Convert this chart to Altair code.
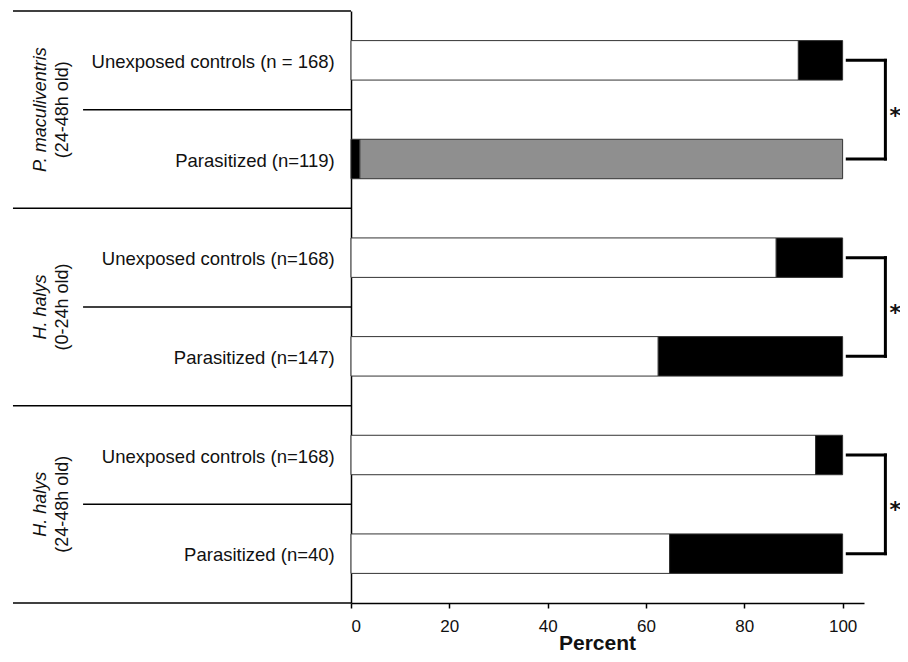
import altair as alt
import pandas as pd

# ---------------- data ----------------
row_labels = [
    "Unexposed controls (n = 168)",
    "Parasitized (n=119)",
    "Unexposed controls (n=168)",
    "Parasitized (n=147)",
    "Unexposed controls (n=168)",
    "Parasitized (n=40)",
]
row_index = [0, 1, 2, 3, 4, 5]

# stacked segments, listed in drawing order (left to right) for each row
seg_row = [0, 0, 1, 1, 2, 2, 3, 3, 4, 4, 5, 5]
seg_cat = ["Nymph emerged", "No emergence",
           "No emergence", "Parasitoid emerged",
           "Nymph emerged", "No emergence",
           "Nymph emerged", "No emergence",
           "Nymph emerged", "No emergence",
           "Nymph emerged", "No emergence"]
seg_val = [91.0, 9.0,
           1.8, 98.2,
           86.5, 13.5,
           62.5, 37.5,
           94.5, 5.5,
           64.8, 35.2]

categories = ["Nymph emerged", "No emergence", "Parasitoid emerged"]
cat_colors = ["#ffffff", "#000000", "#8f8f8f"]

group_species = ["P. maculiventris", "H. halys", "H. halys"]
group_age = ["(24-48h old)", "(0-24h old)", "(24-48h old)"]
group_first_row = [0, 2, 4]

# significance brackets between pairs of rows
bracket_top = [0, 2, 4]
bracket_bottom = [1, 3, 5]
bracket_mark = ["*", "*", "*"]

x_ticks = [0, 20, 40, 60, 80, 100]

# ---------------- layout constants ----------------
BAR_HALF = 0.2
X_MAX = 104.35
X_LEFT = -68.76     # left end of frame lines
X_INNER = -54.5     # left end of within-group lines
X_ROWLAB = -3.3
X_SPECIES = -62.0
X_AGE = -57.6
X_BR0 = 100.95
X_BR1 = 108.7
X_STAR = 110.7
FONT = "Liberation Sans"
TXT = "#111111"

# ---------------- tables ----------------
segs = pd.DataFrame({"row": seg_row, "cat": seg_cat, "val": seg_val})
segs["end"] = segs.groupby("row")["val"].cumsum()
segs["start"] = segs["end"] - segs["val"]
segs["y0"] = segs["row"] - BAR_HALF
segs["y1"] = segs["row"] + BAR_HALF

rows = pd.DataFrame({"row": row_index, "label": row_labels})

groups = pd.DataFrame({
    "species": group_species,
    "age": group_age,
    "gy": [r + 0.5 for r in group_first_row],
})

long_lines = pd.DataFrame({"y": [g - 0.5 for g in group_first_row] + [row_index[-1] + 0.5]})
long_lines["x1"] = X_LEFT
long_lines["x2"] = 0
short_lines = pd.DataFrame({"y": [g + 0.5 for g in group_first_row]})
short_lines["x1"] = X_INNER
short_lines["x2"] = 0
frame = pd.concat([long_lines, short_lines], ignore_index=True)

br_h = pd.DataFrame({"y": bracket_top + bracket_bottom})
br_h["x1"] = X_BR0
br_h["x2"] = X_BR1
br_v = pd.DataFrame({"ya": bracket_top, "yb": bracket_bottom})
stars = pd.DataFrame({"ym": [(a + b) / 2 for a, b in zip(bracket_top, bracket_bottom)],
                      "s": bracket_mark})

# ---------------- scales & axes ----------------
xs = alt.Scale(domain=[0, X_MAX], nice=False, zero=False)
ys = alt.Scale(domain=[-0.5, 5.5], reverse=True, nice=False, zero=False)

x_axis = alt.Axis(
    values=x_ticks, title="Percent", grid=False,
    labelFont=FONT, labelFontSize=17, labelColor=TXT, labelPadding=10,
    tickColor="#000000", tickSize=5, tickWidth=1.5,
    domainColor="#000000", domainWidth=1.5,
    titleFont=FONT, titleFontSize=21, titleFontWeight="bold", titleColor=TXT,
    titleX=246, titleY=46, titleBaseline="alphabetic", titleAlign="center")
y_axis = alt.Axis(
    labels=False, ticks=False, grid=False, title=None,
    domainColor="#000000", domainWidth=1.5)


def X(field):
    return alt.X(field, scale=xs, axis=x_axis)


def Y(field):
    return alt.Y(field, scale=ys, axis=y_axis)


def XD(v):
    return alt.XDatum(v, scale=xs, axis=x_axis)


bars = alt.Chart(segs).mark_rect(stroke="#333333", strokeWidth=1).encode(
    x=X("start:Q"), x2="end:Q",
    y=Y("y0:Q"), y2="y1:Q",
    color=alt.Color("cat:N", scale=alt.Scale(domain=categories, range=cat_colors), legend=None),
)

frame_rules = alt.Chart(frame).mark_rule(color="#000000", strokeWidth=1.5).encode(
    x=X("x1:Q"), x2="x2:Q", y=Y("y:Q"),
)

row_text = alt.Chart(rows).mark_text(
    align="right", baseline="middle", font=FONT, fontSize=18.5, color=TXT, dy=1.5
).encode(x=XD(X_ROWLAB), y=Y("row:Q"), text="label:N")

species_text = alt.Chart(groups).mark_text(
    angle=270, align="center", baseline="alphabetic", font=FONT, fontSize=18,
    fontStyle="italic", color=TXT
).encode(x=XD(X_SPECIES), y=Y("gy:Q"), text="species:N")

age_text = alt.Chart(groups).mark_text(
    angle=270, align="center", baseline="alphabetic", font=FONT, fontSize=18, color=TXT
).encode(x=XD(X_AGE), y=Y("gy:Q"), text="age:N")

br_h_rules = alt.Chart(br_h).mark_rule(color="#000000", strokeWidth=3, strokeCap="square").encode(
    x=X("x1:Q"), x2="x2:Q", y=Y("y:Q"),
)
br_v_rules = alt.Chart(br_v).mark_rule(color="#000000", strokeWidth=3, strokeCap="square").encode(
    x=XD(X_BR1), y=Y("ya:Q"), y2="yb:Q",
)
star_text = alt.Chart(stars).mark_text(
    font="DejaVu Sans", fontSize=22, fontWeight="bold", color=TXT,
    align="center", baseline="middle", dy=6
).encode(x=XD(X_STAR), y=Y("ym:Q"), text="s:N")

chart = alt.layer(
    bars, frame_rules, row_text, species_text, age_text, br_h_rules, br_v_rules, star_text
).properties(
    width=513, height=592,
    autosize=alt.AutoSizeParams(type="none"),
    padding={"left": 343, "top": 3, "right": 36, "bottom": 51},
).configure(background="#ffffff").configure_view(stroke=None)

chart.save("out.html", embed_options={"renderer": "svg", "actions": False})
